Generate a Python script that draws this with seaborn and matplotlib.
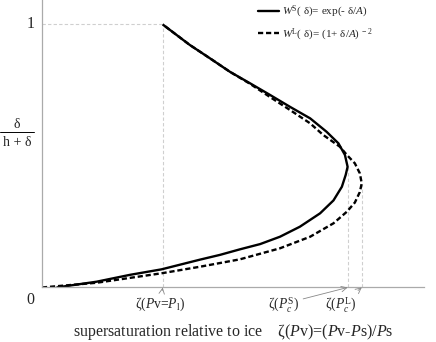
import numpy as np
import pandas as pd
import seaborn as sns
import matplotlib
matplotlib.use('Agg')
import matplotlib.pyplot as plt
from matplotlib.lines import Line2D

# curves: x = supersaturation (arbitrary units), y = delta/(h+delta)
solid_x = [0.038, 0.143, 0.230, 0.313, 0.414, 0.466, 0.518, 0.571, 0.623, 0.675, 0.728,
           0.763, 0.785, 0.795, 0.800, 0.793, 0.776, 0.745, 0.702, 0.649, 0.597, 0.545,
           0.492, 0.440, 0.387, 0.316]
solid_y = [0.000, 0.022, 0.048, 0.069, 0.106, 0.124, 0.145, 0.165, 0.193, 0.231, 0.282,
           0.331, 0.383, 0.428, 0.459, 0.504, 0.548, 0.592, 0.643, 0.687, 0.732, 0.776,
           0.820, 0.871, 0.922, 1.000]

dashed_x = [0.000, 0.143, 0.313, 0.414, 0.518, 0.623, 0.702, 0.763, 0.798, 0.819, 0.832,
            0.837, 0.832, 0.819, 0.798, 0.780, 0.736, 0.702, 0.649, 0.597, 0.545, 0.492,
            0.440, 0.387, 0.316]
dashed_y = [0.000, 0.018, 0.054, 0.079, 0.107, 0.149, 0.193, 0.244, 0.288, 0.323, 0.363,
            0.396, 0.434, 0.472, 0.504, 0.535, 0.580, 0.624, 0.675, 0.724, 0.774, 0.820,
            0.871, 0.922, 1.000]

# marked points on the x axis
mark_x = [0.316, 0.800, 0.837]
mark_top = [1.0, 0.459, 0.396]
mark_labels = [r'ζ($P$v=$P_{\rm l}$)', r'ζ($P_c^{\rm S}$)', r'ζ($P_c^{\rm L}$)']
mark_label_x = [0.309, 0.631, 0.783]

leg_S = r'$W^{\rm S}$( δ)= exp(- δ/$A$)'
leg_L = r'$W^{\rm L}$( δ)= (1+ δ/$A$)$^{\rm \ -2}$'

df = pd.concat([
    pd.DataFrame({'x': solid_x, 'y': solid_y, 'model': leg_S}),
    pd.DataFrame({'x': dashed_x, 'y': dashed_y, 'model': leg_L}),
])

sns.set_style('white')
plt.rcParams['font.family'] = ['Liberation Serif', 'DejaVu Serif']
plt.rcParams['mathtext.fontset'] = 'custom'
plt.rcParams['mathtext.rm'] = 'Liberation Serif'
plt.rcParams['mathtext.it'] = 'Liberation Serif:italic'

fig = plt.figure(figsize=(4.36, 3.42), dpi=100)
ax = fig.add_axes([0.0963, 0.1594, 0.8762, 0.8406])

# thin grey guide lines
gray = '#cfcfcf'
ax.vlines(mark_x, 0, mark_top, colors=gray, linestyles=(0, (3, 2)), lw=0.8)
ax.hlines(1.0, 0, mark_x[0], colors=gray, linestyles=(0, (3, 2)), lw=0.8)

sns.lineplot(data=df, x='x', y='y', hue='model', style='model', sort=False,
             palette=['black', 'black'], dashes=[(1, 0), (2.2, 1.2)],
             linewidth=1.7, estimator=None, ax=ax, legend=False)
for ln in ax.get_lines():
    ln.set_solid_joinstyle('round')
    ln.set_dash_capstyle('butt')

ax.set_xlim(0, 1)
ax.set_ylim(0, 1.093)
ax.set_xticks([])
ax.set_yticks([])
ax.set_xlabel('')
ax.set_ylabel('')
for s in ['top', 'right']:
    ax.spines[s].set_visible(False)
for s in ['left', 'bottom']:
    ax.spines[s].set_color('#aaaaaa')
    ax.spines[s].set_linewidth(0.9)

handles = [Line2D([], [], color='black', lw=1.7),
           Line2D([], [], color='black', lw=1.7, ls=(0, (2.2, 1.2)))]
ax.legend(handles, [leg_S, leg_L], loc='upper left', bbox_to_anchor=(0.565, 0.985),
          frameon=False, fontsize=8, handlelength=1.9, handletextpad=0.3,
          labelspacing=0.55, borderpad=0, borderaxespad=0)

# y labels
ax.text(-0.031, 1.0, '1', ha='center', va='center', fontsize=11.5, clip_on=False)
ax.text(-0.031, -0.048, '0', ha='center', va='center', fontsize=11.5, clip_on=False)
fig.text(17 / 436, 1 - 125 / 342, 'δ', ha='center', va='center', fontsize=10)
fig.text(17 / 436, 1 - 143 / 342, 'h + δ', ha='center', va='center', fontsize=10)
fig.add_artist(Line2D([0, 34 / 436], [1 - 132 / 342] * 2, color='black', lw=0.7))

# labels for the marked points with small arrows
arrow = dict(arrowstyle='->', color='#888888', lw=0.6, shrinkA=1, shrinkB=0)
for xm, lab, xl in zip(mark_x, mark_labels, mark_label_x):
    ax.annotate(lab, xy=(xm, 0), xytext=(xl, -0.063), textcoords='data',
                ha='center', va='center', fontsize=9.8, arrowprops=arrow,
                annotation_clip=False)

ax.text(0.5, -0.169, r'supersaturation relative to ice    ζ($P$v)=($P$v-$P$s)/$P$s',
        ha='center', va='center', fontsize=11.5, transform=ax.transData, clip_on=False)

fig.savefig('out.png', dpi=100)
